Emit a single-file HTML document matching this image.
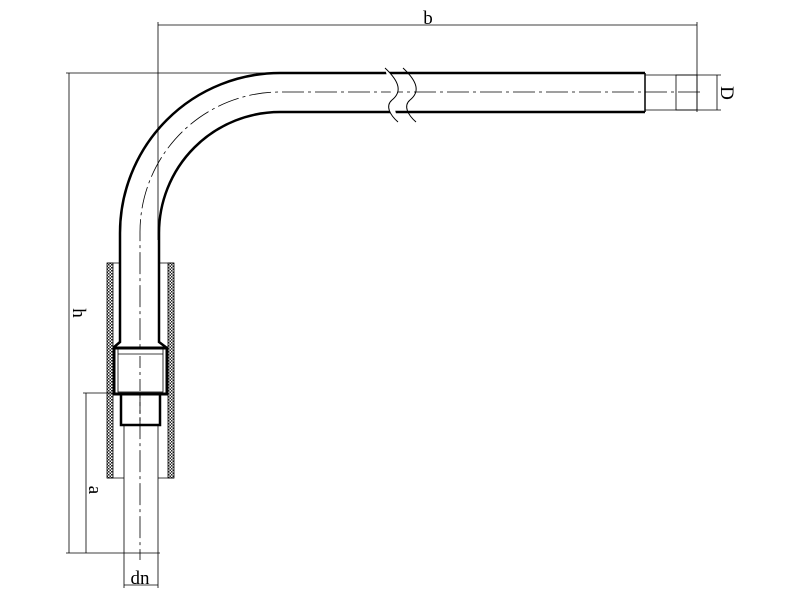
<!DOCTYPE html>
<html><head><style>body{margin:0;background:#fff}svg{display:block}</style></head><body>
<svg width="800" height="600" viewBox="0 0 800 600" xmlns="http://www.w3.org/2000/svg">
<defs>
<pattern id="hat" width="3" height="3" patternUnits="userSpaceOnUse"><rect width="3" height="3" fill="#fff"/><rect width="1.5" height="1.5" fill="#222"/><rect x="1.5" y="1.5" width="1.5" height="1.5" fill="#222"/></pattern>
</defs>
<g fill="none" stroke="#000">
<path d="M645 73 H280 A160 160 0 0 0 120 233 V342 L113 348" stroke-width="2.5"/>
<path d="M645 112 H280 A121 121 0 0 0 159 233 V342 L167 348" stroke-width="2.5"/>
<line x1="645" y1="73" x2="645" y2="112" stroke-width="1.5"/>
<path d="M700 92 H280 A140 140 0 0 0 140 233 V560" stroke-width="0.8" stroke-dasharray="22,4,3,4"/>
<path d="M385 68 C400 82,402 92,392 100 C385 106,390 115,398 122" stroke-width="1" fill="#fff"/>
<path d="M403 68 C418 82,420 92,410 100 C403 106,408 115,416 122" stroke-width="1"/>
<path d="M645 75 H697 M645 110 H697" stroke-width="0.8"/>
<rect x="676" y="75" width="21" height="35" stroke-width="0.8"/>
<rect x="107" y="263" width="6" height="215" fill="url(#hat)" stroke-width="0.8"/>
<rect x="168" y="263" width="6" height="215" fill="url(#hat)" stroke-width="0.8"/>
<path d="M107 263 H121 M159 263 H174 M107 478 H124 M158 478 H174" stroke-width="0.8"/>
<rect x="114" y="348" width="53" height="46" stroke-width="3" fill="#fff"/>
<rect x="118" y="348" width="45" height="44" stroke-width="0.8"/>
<line x1="118" y1="354" x2="163" y2="354" stroke-width="0.8"/>
<path d="M121 394 V425 H160 V394" stroke-width="2.5"/>
<line x1="140" y1="356" x2="140" y2="425" stroke-width="0.8" stroke-dasharray="12,4,3,4"/>
<path d="M124 425 V588 M158 425 V588" stroke-width="0.8"/>
<line x1="124" y1="585" x2="158" y2="585" stroke-width="0.8"/>
<path d="M158 22 V240 M697 22 V112 M158 25 H697" stroke-width="0.8"/>
<path d="M697 75 H721 M697 110 H721 M717 75 V110" stroke-width="0.8"/>
<path d="M66 73 H280 M69 73 V553 M66 553 H160" stroke-width="0.8"/>
<path d="M83 393 H114 M86 393 V553" stroke-width="0.8"/>
</g>
<g font-family="Liberation Serif, serif" font-size="19" fill="#000">
<text x="428" y="24" text-anchor="middle">b</text>
<text x="140" y="584" text-anchor="middle">dn</text>
<text transform="translate(721,93) rotate(90)" text-anchor="middle">D</text>
<text transform="translate(73,313) rotate(90)" text-anchor="middle">h</text>
<text transform="translate(89,490) rotate(90)" text-anchor="middle">a</text>
</g>
</svg>
</body></html>
